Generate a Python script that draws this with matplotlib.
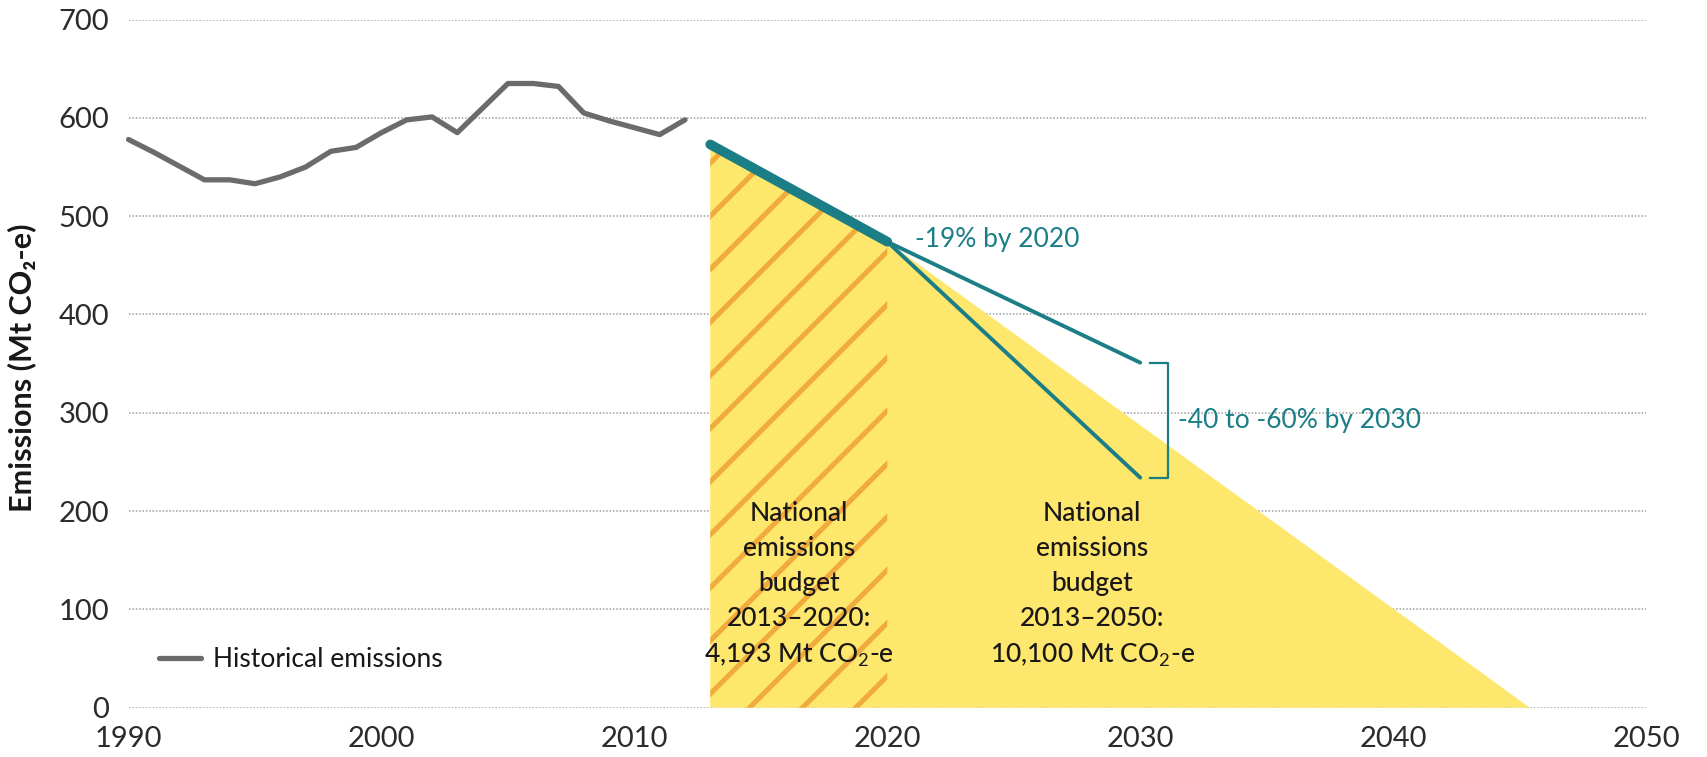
import matplotlib
matplotlib.use("Agg")
import matplotlib.pyplot as plt
from matplotlib.patches import Polygon
from matplotlib.lines import Line2D
import numpy as np

plt.rcParams['font.family'] = ['Lato', 'Noto Sans', 'DejaVu Sans']
plt.rcParams['mathtext.fontset'] = 'custom'
plt.rcParams['mathtext.rm'] = 'Lato'

# Historical emissions (Mt CO2-e)
years = list(range(1990, 2013))
emissions = [578, 565, 551, 537, 537, 533, 540, 550, 566, 570, 585, 598,
             601, 585, 610, 635, 635, 632, 605, 597, 590, 583, 598]

# Budget trajectory 2013-2020 and 2030 target range
path_years = [2013, 2020]
path_values = [573, 474]
target_years = [2020, 2030]
target_upper = [474, 351]   # -40% by 2030
target_lower = [474, 234]   # -60% by 2030
budget_zero_year = 2045.4

xticks = [1990, 2000, 2010, 2020, 2030, 2040, 2050]
yticks = [0, 100, 200, 300, 400, 500, 600, 700]

TEAL = "#1b7e86"
GREY = "#6b6b6d"
YELLOW = "#fde76c"
ORANGE = "#f1aa3c"
TEXT = "#1a1718"

fig = plt.figure(figsize=(17.07, 7.57), dpi=100)
ax = fig.add_axes([0.0753, 0.0652, 0.889, 0.9089])
ax.set_xlim(1990, 2050)
ax.set_ylim(0, 700)

# dotted horizontal gridlines, no spines
ax.set_yticks(yticks)
ax.set_xticks(xticks)
ax.grid(axis='y', color='#9d9d9d', linestyle=(0, (1, 1.2)), linewidth=1.1)
ax.set_axisbelow(True)
for s in ax.spines.values():
    s.set_visible(False)
ax.tick_params(axis='both', length=0, labelsize=21, labelcolor='#2b2b2b')
ax.tick_params(axis='x', pad=13)
ax.tick_params(axis='y', pad=14)

ax.set_ylabel("Emissions (Mt CO₂-e)", fontsize=22, fontweight='bold', color=TEXT)
ax.yaxis.set_label_coords(-0.061, 0.494)

# full budget area 2013-2050
budget = Polygon([(path_years[0], 0), (path_years[0], path_values[0]),
                  (path_years[1], path_values[1]), (budget_zero_year, 0)],
                 closed=True, facecolor=YELLOW, edgecolor='none', zorder=2)
ax.add_patch(budget)

# 2013-2020 budget, striped
near = Polygon([(path_years[0], 0), (path_years[0], path_values[0]),
                (path_years[1], path_values[1]), (path_years[1], 0)],
               closed=True, facecolor='none', edgecolor='none', zorder=2)
ax.add_patch(near)

# slope that gives 45 degree stripes on screen
pos = ax.get_position()
px_per_year = pos.width * fig.get_figwidth() / 60
px_per_unit = pos.height * fig.get_figheight() / 700
slope = px_per_year / px_per_unit
for c in np.arange(14 - 54 * 4, 600, 54):
    xs = np.array([path_years[0] - 1, path_years[1] + 1])
    ys = c + slope * (xs - path_years[0])
    ln, = ax.plot(xs, ys, color=ORANGE, lw=3.6, zorder=3, solid_capstyle='butt')
    ln.set_clip_path(near)

# historical line
ax.plot(years, emissions, color=GREY, lw=3.8, zorder=4,
        solid_capstyle='round', solid_joinstyle='round', clip_on=False)

# trajectory and 2030 targets
ax.plot(path_years, path_values, color=TEAL, lw=7, zorder=5, solid_capstyle='round')
ax.plot(target_years, target_upper, color=TEAL, lw=2.8, zorder=5, solid_capstyle='round')
ax.plot(target_years, target_lower, color=TEAL, lw=2.8, zorder=5, solid_capstyle='round')

# bracket for the 2030 range
ax.plot([2030.4, 2031.1, 2031.1, 2030.4],
        [target_upper[1], target_upper[1], target_lower[1], target_lower[1]],
        color=TEAL, lw=1.6, zorder=5)

ax.text(2021.1, path_values[1] + 2, "-19% by 2020", color=TEAL, fontsize=19,
        ha='left', va='center', zorder=6)
ax.text(2031.5, (target_upper[1] + target_lower[1]) / 2, "-40 to -60% by 2030",
        color=TEAL, fontsize=19, ha='left', va='center', zorder=6)

ax.text(2016.5, 125, "National\nemissions\nbudget\n2013–2020:\n4,193 Mt CO$_2$-e",
        ha='center', va='center', fontsize=19, color=TEXT, linespacing=1.5,
        fontweight=500, zorder=6)
ax.text(2028.1, 125, "National\nemissions\nbudget\n2013–2050:\n10,100 Mt CO$_2$-e",
        ha='center', va='center', fontsize=19, color=TEXT, linespacing=1.5,
        fontweight=500, zorder=6)

handle = Line2D([], [], color=GREY, lw=3.8, solid_capstyle='round')
leg = ax.legend([handle], ["Historical emissions"], loc='center left',
                bbox_to_anchor=(0.02, 49 / 700), frameon=False, fontsize=19,
                handlelength=1.6, handletextpad=0.45, borderpad=0, borderaxespad=0)
for t in leg.get_texts():
    t.set_color(TEXT)

fig.savefig("out.png", dpi=100)
